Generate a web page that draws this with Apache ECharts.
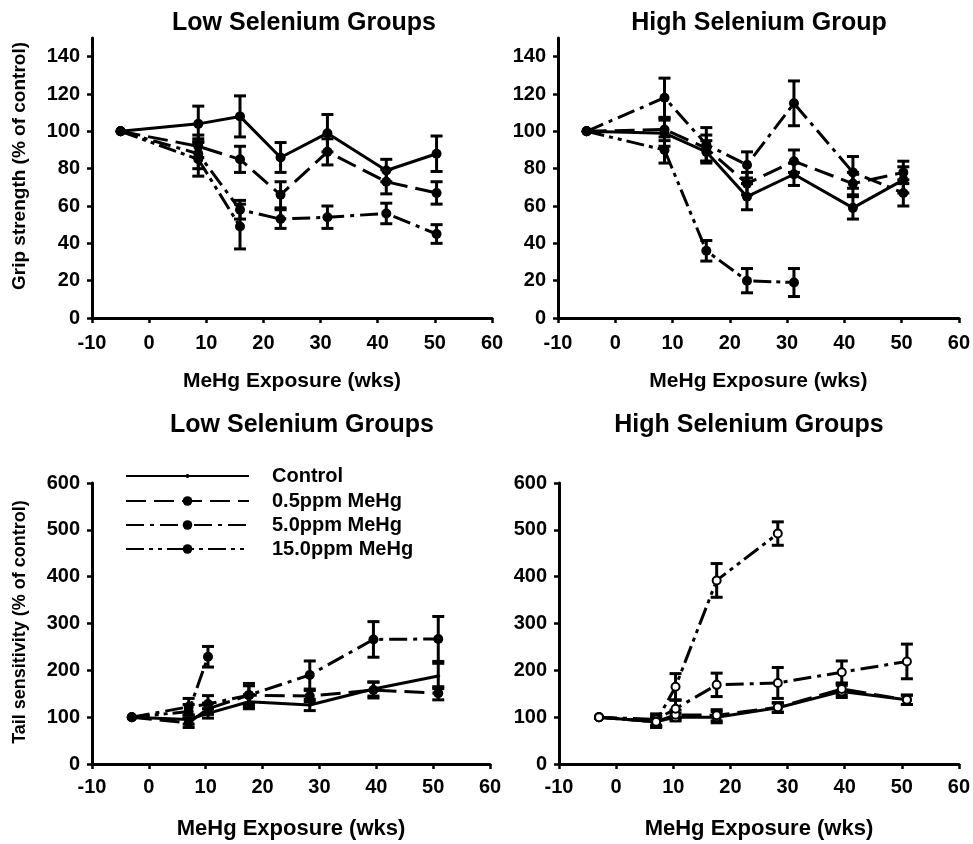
<!DOCTYPE html>
<html><head><meta charset="utf-8">
<script src="https://cdn.jsdelivr.net/npm/echarts@6/dist/echarts.min.js"></script>
<style>html,body{margin:0;padding:0;background:#fff}#c{width:973px;height:844px}</style>
</head><body><div id="c"></div>
<script>
// ---- data ----
const seriesNames = ['Control', '0.5ppm MeHg', '5.0ppm MeHg', '15.0ppm MeHg'];
const gripWeeks = [-5, 8.6, 15.9, 23, 31.2, 41.5, 50.3];
const tailWeeks = [-3, 7, 10.4, 17.6, 28.3, 39.5, 50.9];
const xTicks = [-10, 0, 10, 20, 30, 40, 50, 60];
const gripTicks = [0, 20, 40, 60, 80, 100, 120, 140];
const tailTicks = [0, 100, 200, 300, 400, 500, 600];

// Grip strength, Low selenium
const gripLowControl = [100, 104, 108, 86, 99, 79, 88];
const gripLowControlErr = [0, 9.5, 11, 8, 10, 6, 9.5];
const gripLow05 = [100, 92, 85, 66, 89, 73, 67];
const gripLow05Err = [0, 6, 7, 7, 7, 6.5, 6];
const gripLow50 = [100, 88, 58, 53, 54, 56, 45];
const gripLow50Err = [0, 8, 5, 5, 6, 5.5, 5];
const gripLow150 = [100, 85, 49];
const gripLow150Err = [0, 9, 12];

// Grip strength, High selenium
const gripHighControl = [100, 99, 89, 65, 77, 59, 74];
const gripHighControlErr = [0, 7, 6, 7, 6, 6, 7];
const gripHigh05 = [100, 101, 91, 72, 84, 72, 78];
const gripHigh05Err = [0, 6, 7, 6, 6, 6, 6];
const gripHigh50 = [100, 118, 93, 82, 115, 78, 67];
const gripHigh50Err = [0, 10.5, 9, 7, 12, 8.5, 7];
const gripHigh150 = [100, 90, 36, 20, 19];
const gripHigh150Err = [0, 7, 5.5, 6.5, 7.5];

// Tail sensitivity, Low selenium
const tailLowControl = [100, 95, 108, 133, 126, 160, 188];
const tailLowControlErr = [0, 10, 10, 15, 12, 15, 27];
const tailLow05 = [100, 88, 118, 147, 145, 158, 151];
const tailLow05Err = [0, 10, 12, 20, 12, 17, 14];
const tailLow50 = [100, 122, 128, 147, 190, 266, 267];
const tailLow50Err = [0, 18, 18, 25, 30, 38, 48];
const tailLow150 = [100, 112, 229];
const tailLow150Err = [0, 15, 22];

// Tail sensitivity, High selenium
const tailHighControl = [100, 90, 100, 100, 120, 155, 137];
const tailHighControlErr = [0, 10, 8, 12, 10, 13, 10];
const tailHigh05 = [100, 90, 105, 104, 121, 160, 137];
const tailHigh05Err = [0, 12, 10, 12, 10, 13, 10];
const tailHigh50 = [100, 95, 118, 169, 173, 196, 219];
const tailHigh50Err = [0, 12, 18, 25, 33, 24, 37];
const tailHigh150 = [100, 90, 165, 392, 492];
const tailHigh150Err = [0, 10, 28, 36, 25];

// ---- styling ----
const FONT = '"Liberation Sans", Arial, sans-serif';
const dashes = ['solid', [20, 8], [18, 6, 4, 6], [18, 5, 4, 5, 4, 5]];

function pairs(xs, ys) { return ys.map((v, i) => [xs[i], v]); }
function triples(xs, ys, es) { return ys.map((v, i) => [xs[i], v, es[i]]).filter(d => d[2] > 0); }

const panels = [
  { grid: { left: 92, top: 38, width: 400, height: 280 }, ymax: 150, yint: 20, yTicks: gripTicks, weeks: gripWeeks,
    sets: [[gripLowControl, gripLowControlErr], [gripLow05, gripLow05Err], [gripLow50, gripLow50Err], [gripLow150, gripLow150Err]],
    labelMargin: 15, prefix: 'A ', open: false },
  { grid: { left: 558, top: 38, width: 402, height: 280 }, ymax: 150, yint: 20, yTicks: gripTicks, weeks: gripWeeks,
    sets: [[gripHighControl, gripHighControlErr], [gripHigh05, gripHigh05Err], [gripHigh50, gripHigh50Err], [gripHigh150, gripHigh150Err]],
    labelMargin: 15, prefix: 'B ', open: false },
  { grid: { left: 92, top: 483, width: 398, height: 281 }, ymax: 600, yint: 100, yTicks: tailTicks, weeks: tailWeeks,
    sets: [[tailLowControl, tailLowControlErr], [tailLow05, tailLow05Err], [tailLow50, tailLow50Err], [tailLow150, tailLow150Err]],
    labelMargin: 13, prefix: '', open: false, smallControl: true },
  { grid: { left: 559, top: 483, width: 400, height: 281 }, ymax: 600, yint: 100, yTicks: tailTicks, weeks: tailWeeks,
    sets: [[tailHighControl, tailHighControlErr], [tailHigh05, tailHigh05Err], [tailHigh50, tailHigh50Err], [tailHigh150, tailHigh150Err]],
    labelMargin: 13, prefix: 'D ', open: true }
];

const grids = [], xAxes = [], yAxes = [], series = [];
panels.forEach((p, gi) => {
  grids.push(p.grid);
  xAxes.push({
    gridIndex: gi, type: 'value', min: -10, max: 60, interval: 10,
    axisLine: { onZero: false, lineStyle: { color: '#000', width: 3 } },
    axisTick: { length: 5, lineStyle: { color: '#000', width: 2.5 }, customValues: xTicks },
    axisLabel: { color: '#000', fontWeight: 'bold', fontSize: 20, fontFamily: FONT, margin: p.labelMargin, customValues: xTicks },
    splitLine: { show: false },
    name: 'MeHg Exposure (wks)', nameLocation: 'middle', nameGap: gi < 2 ? 53 : 54,
    nameTextStyle: { color: '#000', fontWeight: 'bold', fontSize: gi < 2 ? 21 : 22, fontFamily: FONT, verticalAlign: 'top' }
  });
  yAxes.push({
    gridIndex: gi, type: 'value', min: 0, max: p.ymax, interval: p.yint,
    axisLine: { show: true, onZero: false, lineStyle: { color: '#000', width: 3 } },
    axisTick: { show: true, length: 5, lineStyle: { color: '#000', width: 2.5 }, customValues: p.yTicks },
    axisLabel: { color: '#000', fontWeight: 'bold', fontSize: 20, fontFamily: FONT, margin: 12, customValues: p.yTicks },
    splitLine: { show: false }
  });
  p.sets.forEach((s, k) => {
    const name = p.prefix + seriesNames[k];
    let symbol = 'circle', size = 10;
    if (p.open) { symbol = 'emptyCircle'; size = 8; }
    if (p.smallControl && k === 0) { size = 4; }
    series.push({
      type: 'line', name: name, xAxisIndex: gi, yAxisIndex: gi,
      data: pairs(p.weeks, s[0]),
      symbol: symbol, symbolSize: size, showSymbol: true,
      lineStyle: { color: '#000', width: 3, type: dashes[k] },
      itemStyle: { color: '#000', borderColor: '#000', borderWidth: p.open ? 1.8 : 0 },
      emphasis: { disabled: true }, z: 3, animation: false
    });
    series.push({
      type: 'custom', name: name + ' err', xAxisIndex: gi, yAxisIndex: gi,
      data: triples(p.weeks, s[0], s[1]),
      encode: { x: 0, y: 1 },
      renderItem: function (params, api) {
        const x = api.value(0), y = api.value(1), e = api.value(2);
        const t = api.coord([x, y + e]);
        const b = api.coord([x, y - e]);
        const hw = 6;
        const st = { stroke: '#000', lineWidth: 3 };
        return { type: 'group', children: [
          { type: 'line', shape: { x1: t[0], y1: t[1], x2: b[0], y2: b[1] }, style: st },
          { type: 'line', shape: { x1: t[0] - hw, y1: t[1], x2: t[0] + hw, y2: t[1] }, style: st },
          { type: 'line', shape: { x1: b[0] - hw, y1: b[1], x2: b[0] + hw, y2: b[1] }, style: st }
        ] };
      },
      z: 2, animation: false, silent: true
    });
  });
});

const legendRows = [472, 497, 521, 545];
const legends = seriesNames.map((n, i) => {
  const ih = i === 0 ? 5 : 12;
  return {
    data: [n], orient: 'vertical', left: 120, top: legendRows[i] - 11,
    itemWidth: 123, itemHeight: ih, selectedMode: false,
    textStyle: { color: '#000', fontSize: 20, fontWeight: 'bold', fontFamily: FONT, padding: [0, 0, 0, 18] }
  };
});

const titleFont = 'bold 25px ' + FONT;
const option = {
  backgroundColor: '#fff',
  animation: false,
  grid: grids, xAxis: xAxes, yAxis: yAxes, series: series,
  legend: legends,
  graphic: [
    { type: 'text', x: 304, y: 23, style: { text: 'Low Selenium Groups', font: titleFont, fill: '#000', textAlign: 'center', textVerticalAlign: 'middle' } },
    { type: 'text', x: 759, y: 23, style: { text: 'High Selenium Group', font: titleFont, fill: '#000', textAlign: 'center', textVerticalAlign: 'middle' } },
    { type: 'text', x: 302, y: 425, style: { text: 'Low Selenium Groups', font: titleFont, fill: '#000', textAlign: 'center', textVerticalAlign: 'middle' } },
    { type: 'text', x: 749, y: 425, style: { text: 'High Selenium Groups', font: titleFont, fill: '#000', textAlign: 'center', textVerticalAlign: 'middle' } },
    { type: 'text', x: 20, y: 166, rotation: Math.PI / 2, style: { text: 'Grip strength (% of control)', font: 'bold 19px ' + FONT, fill: '#000', textAlign: 'center', textVerticalAlign: 'middle' } },
    { type: 'text', x: 20, y: 622, rotation: Math.PI / 2, style: { text: 'Tail sensitivity (% of control)', font: 'bold 18px ' + FONT, fill: '#000', textAlign: 'center', textVerticalAlign: 'middle' } }
  ]
};
const chart = echarts.init(document.getElementById('c'), null, { renderer: 'canvas' });
chart.setOption(option);
</script>
</body></html>
